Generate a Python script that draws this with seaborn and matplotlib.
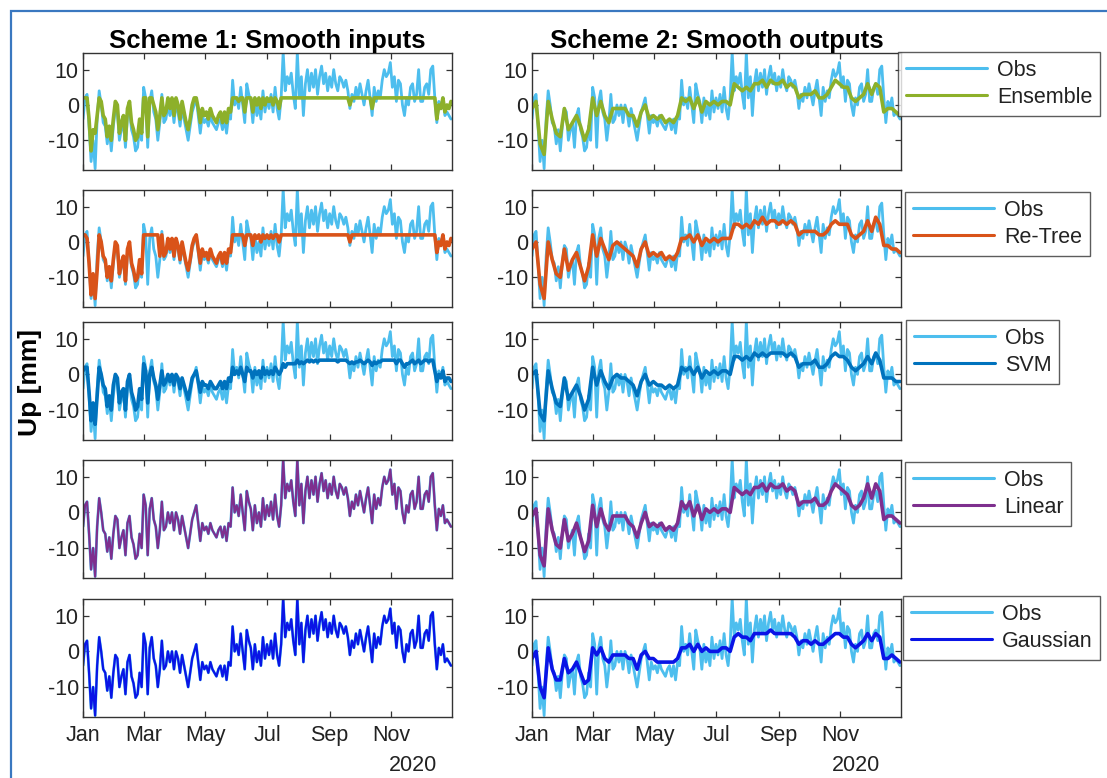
import numpy as np
import pandas as pd
import matplotlib
matplotlib.use("Agg")
import matplotlib.pyplot as plt
import matplotlib.dates as mdates
from matplotlib.patches import Rectangle
import seaborn as sns

# ---------------- data ----------------
# observed vertical displacement, every 2 days through 2020 (mm)
obs = [
    -4, 2, 3, -6, -16, -10, -18, -4, 4, 0, -5, -6, -11, -7, -13, -6,
    -1, -2, -10, -7, -5, -12, -3, -1, -7, -9, -13, -12, -6, -10,
    5, 2, -12, 1, 4, -2, -4, -10, -5, 3, -5, -4, 0, -3, 0, -5,
    0, -2, -6, -1, -4, -7, -10, -6, -2, 0, 2, -3, -8, -3, -5,
    -4, -6, -3, -5, -6, -7, -5, -4, -7, -4, -8, -3, -4, 7, 0,
    2, -1, 5, 0, -5, 6, 3, 1, -5, 2, -3, 0, -4, 4, -2,
    2, -1, 3, -2, 5, -1, -4, 2, 15, 4, 8, 6, 9, 3, -1, 15,
    2, 8, -3, 6, 10, 4, 9, 5, 10, 3, 8, 11, 6, 9, 4,
    8, 5, 10, 6, 4, 8, 7, 5, 7, 4, -1, 3, 1, 5, 2,
    6, 3, 0, 4, 7, 2, -3, 5, 1, 4, 2, 7, 10, 8, 9, 12,
    5, 8, 1, 7, 6, 0, -3, 2, 0, 5, 6, 1, 3, 10, 1,
    1, 5, 6, 3, 10, 11, 2, -5, 1, -1, 2, -3, -2, -3, -4,
]

# scheme 1 (smoothed inputs), every 2 days
ensemble_s1 = [
    2, 2, 2, -4, -13, -7, -8, -3, 2, 1, -3, -4, -9, -6, -10, -4,
    1, 0, -8, -5, -3, -10, -1, 1, -5, -7, -10, -9, -4, -8,
    2, 2, -9, 2, 2, 0, -2, -7, -3, 2, -3, -2, 2, -1, 2, -3,
    2, 0, -4, 1, -2, -5, -7, -4, 0, 2, 2, -1, -5, -1, -3,
    -2, -4, -1, -3, -4, -5, -3, -2, -5, -2, -5, -1, -2, 2, 2,
    2, 1, 2, 2, -2, 2, 2, 2, -2, 2, 0, 2, -1, 2, 0,
    2, 1, 2, 0, 2, 1, -1, 2, 2, 2, 2, 2, 2, 2, 2, 2,
    2, 2, 2, 2, 2, 2, 2, 2, 2, 2, 2, 2, 2, 2, 2,
    2, 2, 2, 2, 2, 2, 2, 2, 2, 2, 0, 2, 2, 2, 2,
    2, 2, 2, 2, 2, 2, -1, 2, 2, 2, 2, 2, 2, 2, 2, 2,
    2, 2, 2, 2, 2, 2, 2, 2, 2, 2, 2, 2, 2, 2, 2,
    2, 2, 2, 2, 2, 2, 2, -4, 0, -1, 2, -2, 0, -1, 1,
]
retree_s1 = [
    2, 2, 1, -6, -15, -9, -16, -8, 2, 0, -4, -5, -10, -7, -11, -5,
    0, -1, -9, -6, -4, -11, -2, 0, -6, -8, -11, -10, -5, -9,
    2, 2, 2, 2, 2, 2, 2, 2, -4, 2, -4, -3, 1, -2, 1, -4,
    1, -1, -5, 0, -3, -6, -8, -5, -1, 1, 2, -2, -6, -2, -4,
    -3, -5, -2, -4, -5, -6, -4, -3, -6, -3, -6, -2, -3, 2, 2,
    2, 2, 2, 2, -1, 2, 2, 2, -1, 2, 1, 2, 0, 2, 1,
    2, 1, 2, 1, 2, 2, 0, 2, 2, 2, 2, 2, 2, 2, 2, 2,
    2, 2, 2, 2, 2, 2, 2, 2, 2, 2, 2, 2, 2, 2, 2,
    2, 2, 2, 2, 2, 2, 2, 2, 2, 2, 0, 2, 2, 2, 2,
    2, 2, 2, 2, 2, 2, 2, 2, 2, 2, 2, 2, 2, 2, 2, 2,
    2, 2, 2, 2, 2, 2, 2, 2, 2, 2, 2, 2, 2, 2, 2,
    2, 2, 2, 2, 2, 2, 2, -3, 0, -1, 2, -2, 0, -1, 1,
]
svm_s1 = [
    1, 2, 2, -5, -13, -8, -14, -6, 2, 0, -3, -4, -9, -6, -10, -3,
    0, -1, -8, -5, -4, -10, -2, 0, -5, -7, -10, -9, -4, -7,
    3, 1, -8, 0, 2, -1, -3, -7, -3, 1, -3, -2, 0, -2, 0, -3,
    0, -1, -4, -1, -3, -5, -7, -4, -1, 0, 1, -2, -5, -2, -3,
    -3, -4, -2, -3, -4, -4, -3, -2, -4, -2, -4, -1, -2, 2, 0,
    1, 0, 2, 0, -2, 2, 1, 1, -1, 1, 0, 1, -1, 2, 0,
    1, 0, 1, 0, 2, 1, 0, 1, 3, 2, 3, 3, 3, 3, 3, 4,
    3, 3.5, 3, 3.5, 4, 3.5, 4, 3.5, 4, 3.5, 4, 4, 4, 4, 4,
    4, 4, 4, 4, 3.5, 4, 4, 4, 4, 3.5, 3, 3.5, 3, 3.5, 3.5,
    4, 3.5, 3, 3.5, 4, 3.5, 2.5, 3.5, 3, 3.5, 3.5, 4, 4, 4, 4, 4,
    4, 4, 3, 4, 4, 3, 2, 3, 3, 3.5, 4, 3, 3.5, 4, 3,
    3.5, 4, 4, 3.5, 4, 4, 1, -2, 0, -1, 1, -2, -1, -1, -2,
]
# linear and gaussian reproduce the observations in scheme 1
linear_s1 = obs
gaussian_s1 = obs

# scheme 2 (smoothed outputs), every 4 days
ensemble_s2 = [
    -1, 1, -11, -14, 1, -4, -8, -9,
    -1, -7, -5, -3, -6, -10, -7,
    2, -3, 1, -3, -5, -1, -1, -1,
    -1, -3, -3, -6, -2, 0, -4,
    -3, -4, -3, -5, -4, -5, -3, 2,
    1, 2, -1, 2, -2, 1, 0,
    1, 0, 1, 1, 0, 6, 5, 4,
    5, 4, 6, 6, 7, 5, 7, 6,
    6, 7, 5, 6, 5, 2, 3,
    3, 3, 4, 2, 2, 3, 5, 7,
    6, 5, 5, 2, 1, 2, 3, 6,
    3, 6, 5, -2, -1, -1, -2, -3,
]
retree_s2 = [
    -2, 0, -12, -16, 0, -5, -9, -10,
    -2, -8, -5, -3, -7, -11, -7,
    2, -4, 1, -2, -5, -1, 0, -1,
    -2, -3, -4, -7, -2, 0, -4,
    -3, -4, -3, -5, -4, -5, -3, 1,
    1, 2, 0, 2, -1, 1, 0,
    1, 0, 1, 1, 1, 5, 5, 4,
    5, 4, 6, 5, 7, 5, 6, 6,
    5, 6, 5, 6, 5, 2, 3,
    3, 3, 3, 2, 2, 3, 5, 6,
    5, 5, 5, 2, 1, 2, 3, 6,
    3, 7, 5, -1, -1, -2, -2, -3,
]
svm_s2 = [
    0, 1, -11, -13, 1, -4, -8, -9,
    -1, -7, -5, -3, -6, -10, -7,
    2, -3, 1, -2, -4, -1, 0, -1,
    -1, -2, -3, -6, -2, 0, -3,
    -2, -3, -3, -4, -3, -4, -3, 2,
    1, 2, 0, 2, -1, 1, 0,
    1, 0, 1, 1, 0, 5, 5, 4,
    5, 4, 6, 5, 6, 5, 6, 6,
    6, 6, 5, 6, 5, 2, 3,
    3, 3, 4, 2, 2, 3, 5, 6,
    5, 5, 4, 2, 1, 2, 3, 5,
    3, 6, 4, -1, -1, -1, -2, -2,
]
linear_s2 = [
    -1, 1, -12, -15, 1, -5, -9, -10,
    -2, -8, -6, -3, -7, -11, -8,
    2, -4, 1, -3, -5, -1, -1, -1,
    -1, -3, -4, -7, -3, 0, -4,
    -3, -4, -3, -5, -4, -5, -3, 3,
    1, 3, -1, 2, -2, 1, 0,
    1, 0, 1, 1, 0, 7, 6, 5,
    6, 5, 7, 7, 8, 6, 8, 7,
    7, 8, 6, 7, 6, 2, 3,
    3, 3, 4, 2, 2, 3, 6, 8,
    7, 6, 5, 2, 1, 2, 4, 8,
    4, 8, 6, -2, -1, -1, -2, -3,
]
gaussian_s2 = [
    -2, 0, -10, -13, 1, -5, -8, -8,
    -2, -6, -5, -3, -6, -9, -8,
    1, -1, 1, -2, -3, -1, -1, -1,
    -1, -2, -2, -5, -1, 0, -2,
    -2, -3, -3, -3, -3, -3, -2, 1,
    1, 2, 0, 2, 0, 1, 0,
    0, 0, 1, 1, 0, 4, 5, 4,
    4, 3, 5, 5, 5, 5, 6, 5,
    5, 5, 5, 5, 4, 2, 3,
    3, 2, 3, 2, 2, 3, 4, 5,
    5, 4, 4, 2, 1, 2, 3, 5,
    3, 5, 4, -2, -2, -1, -2, -3,
]

model_names = ["Ensemble", "Re-Tree", "SVM", "Linear", "Gaussian"]
scheme1 = [ensemble_s1, retree_s1, svm_s1, linear_s1, gaussian_s1]
scheme2 = [ensemble_s2, retree_s2, svm_s2, linear_s2, gaussian_s2]
titles = ["Scheme 1: Smooth inputs", "Scheme 2: Smooth outputs"]
month_ticks = [1, 3, 5, 7, 9, 11]

dates_2d = pd.date_range("2020-01-01", periods=len(obs), freq="2D")
dates_4d = pd.date_range("2020-01-01", periods=len(ensemble_s2), freq="4D")

# ---------------- style ----------------
sns.set_theme(style="white")
plt.rcParams["font.family"] = ["Liberation Sans", "DejaVu Sans"]
plt.rcParams["axes.unicode_minus"] = False

obs_color = "#4DBEEE"
model_colors = ["#8DB02A", "#D95319", "#0072BD", "#7E2F8E", "#0A14E6"]
s1_widths = [2.6, 2.6, 2.6, 1.6, 1.6]
edge = "#333333"
txt = "#222222"

W, H = 1107, 778
fig = plt.figure(figsize=(W / 100, H / 100), dpi=100)
fig.patch.set_facecolor("white")

col_x = [(83, 452), (532, 901)]
row_y = [(53, 170), (190, 307), (322, 440), (460, 578), (599, 717)]
legend_boxes = [(898, 52), (905, 192), (906, 320), (905, 462), (903, 596)]
year_label_x = ["2020-11-22", "2020-11-16"]


def add_px_axes(x0, x1, y0, y1):
    return fig.add_axes([x0 / W, 1 - y1 / H, (x1 - x0) / W, (y1 - y0) / H])


for r in range(5):
    for c in range(2):
        x0, x1 = col_x[c]
        y0, y1 = row_y[r]
        ax = add_px_axes(x0, x1, y0, y1)
        obs_df = pd.DataFrame({"date": dates_2d, "value": obs})
        sns.lineplot(data=obs_df, x="date", y="value", ax=ax, color=obs_color,
                     lw=2.0, label="Obs")
        if c == 0:
            mdf = pd.DataFrame({"date": dates_2d, "value": scheme1[r]})
            lw = s1_widths[r]
        else:
            mdf = pd.DataFrame({"date": dates_4d, "value": scheme2[r]})
            lw = 2.6
        sns.lineplot(data=mdf, x="date", y="value", ax=ax, color=model_colors[r],
                     lw=lw, label=model_names[r])

        ax.set_xlim(pd.Timestamp("2020-01-01"), pd.Timestamp("2020-12-31"))
        ax.set_ylim(-18.4, 14.7)
        ax.set_yticks([-10, 0, 10])
        ax.xaxis.set_major_locator(mdates.MonthLocator(bymonth=month_ticks))
        ax.xaxis.set_major_formatter(mdates.DateFormatter("%b"))
        ax.set_xlabel("")
        ax.set_ylabel("")
        ax.tick_params(direction="in", length=4, width=0.9, color=edge,
                       top=True, right=True, bottom=True, left=True,
                       labelsize=15.5, labelcolor=txt, pad=3)
        for s in ax.spines.values():
            s.set_visible(True)
            s.set_color(edge)
            s.set_linewidth(1.0)
        if r < 4:
            ax.set_xticklabels([])
        else:
            ax.tick_params(axis="x", pad=6)
            ax.text(pd.Timestamp(year_label_x[c]), -0.41, "2020",
                    transform=ax.get_xaxis_transform(), ha="center",
                    va="center", fontsize=15.5, color=txt)
        if r == 0:
            ax.set_title(titles[c], fontsize=18.5, fontweight="bold",
                         color="black", pad=3)

        leg = ax.get_legend()
        if leg is not None:
            leg.remove()
        if c == 1:
            lx, ly = legend_boxes[r]
            lg = ax.legend(loc="upper left",
                           bbox_to_anchor=(lx / W, 1 - ly / H),
                           bbox_transform=fig.transFigure,
                           fontsize=15.5, frameon=True, fancybox=False,
                           handlelength=3.8, handletextpad=0.45,
                           borderpad=0.35, labelspacing=0.3,
                           borderaxespad=0.0)
            lg.get_frame().set_edgecolor(edge)
            lg.get_frame().set_linewidth(1.0)
            for text in lg.get_texts():
                text.set_color(txt)
            for line in lg.get_lines():
                line.set_linewidth(2.2)

fig.text(30 / W, 1 - 383 / H, "Up [mm]", rotation=90, ha="center",
         va="center", fontsize=19, fontweight="bold", color="black")

# outer frame
fig.add_artist(Rectangle((11 / W, -0.05), 1.2, 1 - 11 / H + 0.05,
                         transform=fig.transFigure, fill=False,
                         edgecolor="#3A78C0", lw=1.6, clip_on=False))

fig.savefig("out.png", dpi=100, facecolor="white")
